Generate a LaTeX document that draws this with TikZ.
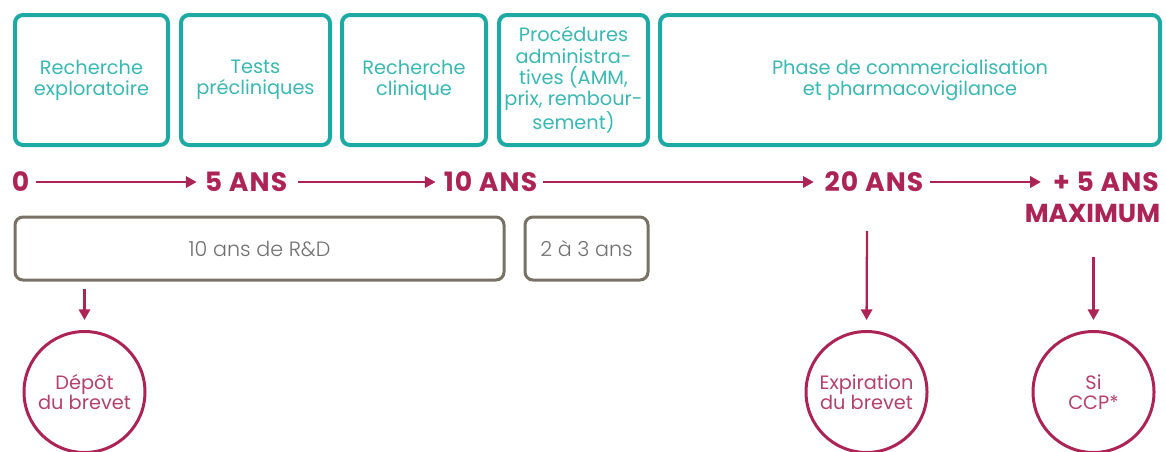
\documentclass[tikz,border=0pt]{standalone}
\usepackage{fontspec}
\setmainfont{Poppins}
\IfFontExistsTF{Poppins Light}{\newfontfamily\lightfont{Poppins Light}}{\newfontfamily\lightfont{Poppins}}
\usetikzlibrary{positioning,arrows.meta}
\definecolor{phaseteal}{RGB}{30,170,164}
\definecolor{phasetext}{RGB}{58,184,178}
\definecolor{timered}{RGB}{172,36,86}
\definecolor{circletext}{RGB}{180,64,108}
\definecolor{spangray}{RGB}{120,114,100}
\definecolor{spantext}{RGB}{112,112,112}

\begin{document}
\begin{tikzpicture}[x=0.75pt,y=0.75pt,yscale=-1,xscale=1,
  phase/.style={draw=phaseteal,line width=3pt,rounded corners=6pt,fill=white,text=phasetext,align=center,
    font=\fontsize{14.5}{15.8}\selectfont,inner sep=0pt,minimum height=97.5pt},
  year/.style={text=timered,font=\fontsize{20}{22}\bfseries\addfontfeatures{LetterSpace=4}\selectfont,inner sep=0pt},
  span/.style={draw=spangray,line width=2.25pt,rounded corners=6pt,text=spantext,
    font=\fontsize{15.5}{17}\lightfont\selectfont,inner sep=0pt,minimum height=47.25pt},
  event/.style={circle,draw=timered,line width=2.25pt,text=circletext,align=center,
    font=\fontsize{14.5}{15}\selectfont,inner sep=0pt,minimum size=90.75pt},
  flow/.style={draw=timered,line width=1.7pt,-{Triangle[length=8pt,width=8.5pt]}}]
\useasboundingbox (0,0) rectangle (1166,451);

% phases
\node[phase,minimum width=114.75pt] (explo) at (91.5,80) {Recherche\\exploratoire};
\node[phase,minimum width=111.75pt] (precli) at (255.5,80) {Tests\\précliniques};
\node[phase,minimum width=108pt] (clini) at (414,80) {Recherche\\clinique};
\node[phase,minimum width=111.75pt] (admin) at (573.5,80) {Procédures\\administra-\\tives (AMM,\\prix, rembour-\\sement)};
\node[phase,minimum width=375pt] (commerce) at (910,80) {Phase de commercialisation\\et pharmacovigilance};

% time line
\node[year] (y0) at (20.5,182) {0};
\node[year] (y5) at (246,182) {5 ANS};
\node[year] (y10) at (490.5,182) {10 ANS};
\node[year] (y20) at (874,182) {20 ANS};
\node[year] (y25) at (1106,182) {+ 5 ANS};
\node[year,font=\fontsize{19.5}{22}\bfseries\selectfont] (ymax) at (1092.5,213) {MAXIMUM};

\draw[flow,shorten <=5pt,shorten >=6pt] (y0.east) -- (y5.west);
\draw[flow,shorten <=8pt,shorten >=6pt] (y5.east) -- (y10.west);
\draw[flow,shorten <=4pt,shorten >=8pt] (y10.east) -- (y20.west);
\draw[flow,shorten <=5pt,shorten >=9pt] (y20.east) -- (y25.west);

% durations
\node[span,minimum width=366.75pt] (rd) at (259.5,248.5) {10 ans de R\&D};
\node[span,minimum width=92.25pt] (admtime) at (586.5,248.5) {2 à 3 ans};

% patent events
\node[event] (depot) at (84.5,392) {Dépôt\\du brevet};
\node[event] (expir) at (866.5,392) {Expiration\\du brevet};
\node[event] (ccp) at (1093.5,392) {Si\\CCP*};

\coordinate (depstart) at (84.5,289);
\coordinate (expstart) at (867,231);
\coordinate (ccpstart) at (1093.5,257);
\draw[flow,shorten >=7.5pt] (depstart) -- (depot.north);
\draw[flow,shorten >=7.5pt] (expstart) -- (expir.north);
\draw[flow,shorten >=7.5pt] (ccpstart) -- (ccp.north);

\end{tikzpicture}
\end{document}
